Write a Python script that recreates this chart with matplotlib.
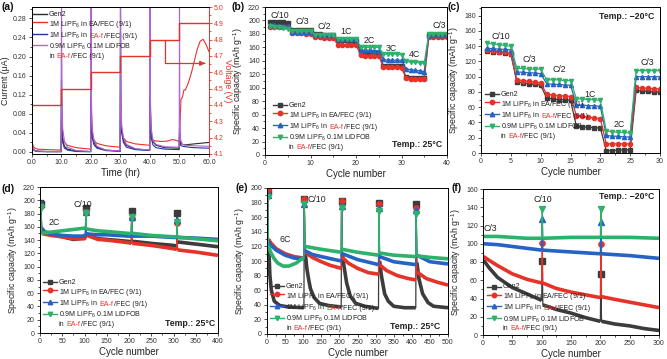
import numpy as np
import matplotlib
matplotlib.use('Agg')
import matplotlib.pyplot as plt
from matplotlib.lines import Line2D
from matplotlib.offsetbox import AnchoredOffsetbox, TextArea, HPacker, VPacker, DrawingArea
from matplotlib.ticker import AutoMinorLocator, FormatStrFormatter

plt.rcParams['font.family'] = ['Liberation Sans', 'DejaVu Sans']
plt.rcParams['mathtext.fontset'] = 'custom'
plt.rcParams['mathtext.rm'] = 'Liberation Sans'
plt.rcParams['mathtext.it'] = 'Liberation Sans:italic'
plt.rcParams['mathtext.bf'] = 'Liberation Sans:bold'
plt.rcParams['axes.linewidth'] = 0.7

TXT = '#222222'
GRAY = '#3c3c3c'
RED = '#e63329'
BLUE = '#2563c4'
GREEN = '#2eb16a'
A_COLORS = ['#2b2b2b', '#e63329', '#1d3a9a', '#b463d3']
COLORS = [GRAY, RED, BLUE, GREEN]
MARKERS = ['s', 'o', '^', 'v']

# ---------------- (a) leakage current / voltage hold ----------------
a_t = [0, 0.1, 0.4, 1, 2, 5, 9.9,
       10, 10.1, 10.4, 11, 12, 15, 19.9,
       20, 20.1, 20.4, 21, 22, 25, 29.9,
       30, 30.1, 30.4, 31, 32, 35, 39.9,
       40, 40.1, 40.4, 41, 42, 45, 49.9,
       50, 50.1, 50.4, 51, 52, 55, 60]
a_gen2 = [0.025, 0.012, 0.006, 0.003, 0.002, 0.001, 0.001,
          0.20, 0.06, 0.025, 0.012, 0.006, 0.002, 0.001,
          0.35, 0.09, 0.04, 0.02, 0.01, 0.004, 0.002,
          0.30, 0.10, 0.045, 0.025, 0.014, 0.006, 0.004,
          0.35, 0.10, 0.04, 0.022, 0.014, 0.009, 0.008,
          0.05, 0.025, 0.018, 0.016, 0.015, 0.017, 0.020]
a_eaf = [0.02, 0.01, 0.005, 0.002, 0.001, 0.0005, 0.0005,
         0.15, 0.05, 0.02, 0.008, 0.004, 0.001, 0.0005,
         0.25, 0.07, 0.03, 0.015, 0.008, 0.003, 0.001,
         0.25, 0.08, 0.04, 0.02, 0.01, 0.005, 0.003,
         0.30, 0.08, 0.03, 0.015, 0.009, 0.006, 0.005,
         0.04, 0.02, 0.014, 0.012, 0.011, 0.009, 0.008]
a_dfob = [0.03, 0.015, 0.007, 0.003, 0.002, 0.001, 0.001,
          0.35, 0.12, 0.05, 0.022, 0.01, 0.003, 0.001,
          0.35, 0.12, 0.05, 0.025, 0.012, 0.004, 0.002,
          0.35, 0.12, 0.055, 0.03, 0.016, 0.007, 0.004,
          0.35, 0.12, 0.05, 0.025, 0.016, 0.011, 0.010,
          0.35, 0.06, 0.025, 0.016, 0.014, 0.013, 0.012]
a_t_ea = [0, 0.1, 0.4, 1, 2, 5, 9.9,
          10, 10.1, 10.4, 11, 12, 15, 19.9,
          20, 20.1, 20.4, 21, 22, 25, 29.9,
          30, 30.1, 30.4, 31, 32, 35, 39.9,
          40, 40.3, 41, 42, 44, 46, 47.5, 48.5, 49.9,
          50, 50.5, 51, 51.5, 52, 53, 54, 55, 56, 57, 58, 59, 60]
a_ea = [0.03, 0.02, 0.012, 0.008, 0.006, 0.005, 0.004,
        0.10, 0.05, 0.03, 0.02, 0.014, 0.009, 0.006,
        0.12, 0.06, 0.035, 0.025, 0.018, 0.013, 0.010,
        0.12, 0.07, 0.04, 0.03, 0.022, 0.017, 0.014,
        0.033, 0.03, 0.025, 0.023, 0.022, 0.023, 0.026, 0.025, 0.022,
        0.03, 0.11, 0.115, 0.13, 0.13, 0.145, 0.165, 0.19, 0.215, 0.232, 0.236, 0.225, 0.21]
v_t = [0, 10, 20, 30, 40, 50, 60]
v_hold = [4.4, 4.5, 4.6, 4.7, 4.8, 4.9, 4.9]

# ---------------- (b) rate test 25 C ----------------
b_cycles = list(range(1, 41))
b_gen2 = [197, 197, 197, 197, 196, 186, 186, 186, 186, 186, 180, 180, 179, 179, 179,
          171, 171, 171, 170, 170, 152, 152, 151, 151, 151, 133, 132, 132, 132, 132,
          116, 115, 115, 114, 114, 178, 178, 178, 178, 178]
b_ea = [191, 191, 191, 190, 190, 181, 181, 181, 180, 180, 175, 175, 174, 174, 174,
        164, 164, 164, 164, 164, 148, 147, 147, 147, 147, 131, 131, 131, 131, 130,
        114, 113, 113, 113, 113, 175, 175, 175, 175, 175]
b_eaf = [193, 193, 192, 192, 192, 183, 183, 183, 183, 183, 178, 178, 178, 178, 178,
         172, 172, 172, 172, 172, 156, 156, 156, 155, 155, 142, 141, 141, 141, 141,
         128, 127, 126, 125, 124, 179, 179, 179, 179, 179]
b_dfob = [192, 191, 190, 189, 188, 185, 185, 184, 184, 184, 179, 179, 179, 179, 179,
          173, 173, 173, 173, 173, 161, 160, 160, 160, 160, 150, 150, 150, 150, 149,
          139, 138, 138, 137, 137, 180, 180, 180, 180, 180]
b_rates = ['C/10', 'C/3', 'C/2', '1C', '2C', '3C', '4C', 'C/3']
b_rate_x = [3.2, 8.2, 13, 17.8, 23, 27.8, 32.9, 38.3]
b_rate_y = [208, 198, 191, 184, 170, 159, 149, 192]

# ---------------- (c) rate test -20 C ----------------
c_cycles = list(range(1, 31))
c_gen2 = [134, 133, 132, 131, 130, 93, 92, 91, 90, 89, 72, 71, 70, 70, 69,
          35, 34, 34, 33, 33, 3, 3, 4, 4, 4, 82, 81, 81, 80, 80]
c_ea = [135, 134, 133, 132, 130, 96, 95, 94, 93, 92, 77, 76, 75, 75, 74,
        49, 48, 47, 46, 45, 12, 12, 12, 12, 12, 86, 85, 85, 84, 84]
c_eaf = [137, 137, 136, 136, 135, 106, 106, 105, 105, 104, 91, 90, 90, 89, 89,
         63, 63, 62, 62, 61, 23, 22, 22, 21, 21, 100, 100, 100, 100, 100]
c_dfob = [144, 143, 142, 141, 140, 111, 111, 110, 110, 110, 96, 96, 96, 95, 95,
          71, 71, 70, 70, 69, 29, 28, 27, 27, 26, 108, 108, 108, 108, 108]
c_rates = ['C/10', 'C/3', 'C/2', '1C', '2C', 'C/3']
c_rate_x = [3.4, 8.1, 13.1, 18.2, 23.2, 27.9]
c_rate_y = [153, 122, 109, 77, 38, 118]

# ---------------- (d) 2C cycling 25 C ----------------
d_cycles = [1, 2, 4, 10, 25, 50, 75, 100, 102, 103, 104, 110, 130, 150, 200, 205,
            206, 207, 210, 250, 300, 307, 308, 309, 312, 350, 400]
d_gen2 = [196, 195, 153, 151, 148, 145, 141, 143, 145, 188, 147, 147, 142, 141, 138, 137,
          184, 138, 138, 135, 132, 131, 181, 137, 137, 134, 130]
d_ea = [193, 192, 150, 149, 147, 145, 142, 142, 146, 182, 148, 146, 141, 140, 136, 135,
        174, 135, 135, 132, 127, 126, 166, 126, 125, 122, 117]
d_eaf = [195, 194, 158, 153, 149, 147, 146, 146, 149, 182, 150, 149, 148, 148, 146, 146,
         175, 146, 146, 146, 144, 144, 170, 144, 144, 143, 141]
d_dfob = [190, 189, 150, 151, 152, 154, 156, 158, 159, 181, 157, 156, 154, 153, 150, 150,
          175, 150, 150, 147, 145, 145, 168, 145, 144, 142, 139]
d_spikes = {1, 2, 103, 206, 308}

# ---------------- (e) 6C cycling 25 C ----------------
e_gen2_x = [1, 2, 4, 6, 8, 12, 20, 35, 60, 102, 103, 105, 107, 110, 115, 120, 130, 145, 170, 205,
            206, 208, 212, 220, 230, 245, 270, 308, 309, 311, 316, 325, 335, 350, 380, 411,
            412, 414, 420, 430, 445, 460, 500]
e_gen2 = [195, 194, 120, 105, 80, 60, 45, 39, 37, 36, 185, 115, 105, 90, 75, 62, 50, 42, 39, 37,
          182, 110, 95, 70, 52, 42, 38, 35, 180, 100, 80, 55, 45, 38, 36, 36,
          178, 98, 75, 55, 43, 38, 36]
e_ea_x = [1, 2, 4, 10, 25, 50, 75, 102, 103, 105, 125, 150, 175, 205, 206, 208, 225, 250, 280, 308,
          309, 311, 330, 360, 390, 411, 412, 414, 440, 470, 500]
e_ea = [198, 197, 130, 125, 117, 110, 106, 104, 185, 112, 105, 99, 94, 90, 182, 105, 97, 90, 84, 82,
        178, 95, 87, 80, 76, 74, 172, 85, 76, 71, 67]
e_eaf_x = [1, 2, 4, 10, 25, 50, 75, 102, 103, 105, 125, 150, 205, 206, 208, 250, 300, 308,
           309, 311, 350, 411, 412, 414, 450, 500]
e_eaf = [192, 191, 127, 122, 115, 108, 104, 103, 178, 114, 109, 106, 100, 175, 110, 102, 96, 95,
         172, 106, 99, 95, 170, 108, 99, 96]
e_dfob_x = [1, 2, 4, 10, 20, 30, 45, 60, 80, 102, 103, 105, 150, 205, 206, 208, 250, 308,
            309, 311, 350, 411, 412, 414, 450, 500]
e_dfob = [188, 187, 121, 112, 103, 97, 93, 93, 97, 105, 178, 120, 116, 112, 172, 116, 112, 108,
          168, 111, 108, 106, 165, 107, 105, 103]
e_spikes = {1, 2, 103, 206, 309, 412}

# ---------------- (f) C/3 cycling -20 C ----------------
f_x_ab = [1, 25, 50, 75, 100, 101, 102, 150, 200, 201, 202, 250, 300]
f_dfob = [108, 108, 107, 106, 106, 138, 106, 107, 107, 138, 107, 107, 106]
f_eaf = [100, 99, 97, 95, 93, 127, 93, 91, 89, 124, 89, 87, 84]
f_x_cd = [1, 10, 25, 50, 75, 100, 101, 102, 125, 150, 175, 200, 201, 202, 225, 250, 275, 300]
f_ea = [86, 82, 76, 67, 61, 57, 101, 57, 51, 47, 44, 41, 100, 42, 39, 36, 33, 30]
f_gen2 = [82, 74, 63, 52, 45, 38, 81, 33, 28, 24, 19, 15, 67, 15, 12, 10, 7, 5]
f_spikes = {101, 201}

LEG_FS = 5.1
SPACE = 1.45
LEG_ROWS = [
    [[('Gen2', None)]],
    [[('1M LiPF$_6$ in EA/FEC (9/1)', None)]],
    [[('1M LiPF$_6$ in', None), ('EA-f', RED), ('/FEC (9/1)', None)]],
    [[('0.9M LiPF$_6$ 0.1M LiDFOB', None)], [('in', None), ('EA-f', RED), ('/FEC (9/1)', None)]],
]


def text_line(parts):
    boxes = [TextArea(s, textprops=dict(fontsize=LEG_FS, color=c or TXT)) for s, c in parts]
    if len(boxes) == 1:
        return boxes[0]
    first = HPacker(children=boxes[:2], sep=SPACE, pad=0)
    return HPacker(children=[first, boxes[2]], sep=0, pad=0)


def add_legend(ax, colors, markers, loc, anchor):
    rows = []
    for color, marker, lines in zip(colors, markers, LEG_ROWS):
        da = DrawingArea(10, 5, 0, 0)
        da.add_artist(Line2D([0, 10], [2.6, 2.6], color=color, lw=1.0))
        if marker:
            da.add_artist(Line2D([5], [2.6], marker=marker, color=color, ms=3.2, lw=0))
        txt = VPacker(children=[text_line(p) for p in lines], sep=0.4, pad=0, align='left')
        rows.append(HPacker(children=[da, txt], sep=1.5, pad=0, align='top'))
    box = VPacker(children=rows, sep=0.7, pad=0, align='left')
    ab = AnchoredOffsetbox(loc=loc, child=box, pad=0, borderpad=0, frameon=False,
                           bbox_to_anchor=anchor, bbox_transform=ax.transAxes)
    ax.add_artist(ab)


def setup(ax, xlim, xticks, ylim, yticks, xlabel, ylabel):
    ax.set_xlim(xlim)
    ax.set_ylim(ylim)
    ax.set_xticks(xticks)
    ax.set_yticks(yticks)
    ax.xaxis.set_minor_locator(AutoMinorLocator(2))
    ax.yaxis.set_minor_locator(AutoMinorLocator(2))
    ax.tick_params(which='both', direction='out', labelsize=5, width=0.6, pad=1.5,
                   colors='#333333')
    ax.tick_params(which='major', length=2.2)
    ax.tick_params(which='minor', length=1.2)
    ax.set_xlabel(xlabel, fontsize=7, labelpad=1, color=TXT)
    ax.set_ylabel(ylabel, fontsize=6.3, labelpad=2, color=TXT)


def cycle_plot(ax, xs, ys, color, marker, spikes):
    thick = [np.nan if x in spikes else y for x, y in zip(xs, ys)]
    ax.plot(xs, ys, color=color, lw=0.9)
    ax.plot(xs, thick, color=color, lw=2.6, solid_capstyle='butt')
    idx = [i for i, x in enumerate(xs) if x in spikes]
    ax.plot([xs[i] for i in idx], [ys[i] for i in idx], ls='none', marker=marker,
            color=color, ms=3.8)


def rect(left, top, right, bottom):
    W, H = 667.0, 359.0
    return [left / W, 1 - bottom / H, (right - left) / W, (bottom - top) / H]


fig = plt.figure(figsize=(6.67, 3.59), dpi=100)
CAP = 'Specific capacity (mAh g$^{-1}$)'

# (a)
ax = fig.add_axes(rect(32, 7, 209, 154))
for t, y, c in [(a_t, a_gen2, A_COLORS[0]), (a_t_ea, a_ea, A_COLORS[1]),
                (a_t, a_eaf, A_COLORS[2]), (a_t, a_dfob, A_COLORS[3])]:
    ax.plot(t, y, color=c, lw=0.8)
setup(ax, (0, 60), [0, 10, 20, 30, 40, 50, 60], (-0.0042, 0.3037),
      [0, 0.04, 0.08, 0.12, 0.16, 0.20, 0.24, 0.28], 'Time (hr)', 'Current (μA)')
ax.xaxis.set_major_formatter(FormatStrFormatter('%.1f'))
ax.yaxis.set_major_formatter(FormatStrFormatter('%.2f'))
ax.spines['right'].set_visible(False)
ax2 = ax.twinx()
ax2.step(v_t, v_hold, where='post', color=RED, lw=1.0)
ax2.plot([45, 45, 58], [4.8, 4.655, 4.655], color=RED, lw=0.9)
ax2.annotate('', xy=(59.6, 4.655), xytext=(57.5, 4.655),
             arrowprops=dict(arrowstyle='-|>', color=RED, lw=0.9, mutation_scale=7))
ax2.set_ylim(4.1, 5.0)
ax2.set_yticks([4.1, 4.2, 4.3, 4.4, 4.5, 4.6, 4.7, 4.8, 4.9, 5.0])
ax2.yaxis.set_major_formatter(FormatStrFormatter('%.1f'))
ax2.yaxis.set_minor_locator(AutoMinorLocator(2))
ax2.tick_params(which='both', direction='out', labelsize=5, width=0.6, pad=1.5,
                colors=RED)
ax2.tick_params(which='major', length=2.2)
ax2.tick_params(which='minor', length=1.2)
ax2.spines['right'].set_color(RED)
ax2.set_ylabel('Voltage (V)', fontsize=6.3, color=RED, rotation=270, labelpad=6)
add_legend(ax2, A_COLORS, [None] * 4, 'upper left', (0.006, 0.975))

# (b)
ax = fig.add_axes(rect(265, 7, 447, 155))
for y, c, m in zip([b_gen2, b_ea, b_eaf, b_dfob], COLORS, MARKERS):
    ax.plot(b_cycles, y, color=c, marker=m, ms=3.0, lw=0.9)
setup(ax, (0, 40), [0, 10, 20, 30, 40], (0, 220), list(range(0, 221, 20)),
      'Cycle number', CAP)
for s, x, y in zip(b_rates, b_rate_x, b_rate_y):
    ax.text(x, y, s, fontsize=6.3, ha='center', va='center', color=TXT)
ax.text(0.975, 0.07, 'Temp.: 25°C', transform=ax.transAxes, fontsize=6.3,
        fontweight='bold', ha='right', va='center', color=TXT)
add_legend(ax, COLORS, MARKERS, 'lower left', (0.044, 0.027))

# (c)
ax = fig.add_axes(rect(481, 7, 660, 153))
for y, c, m in zip([c_gen2, c_ea, c_eaf, c_dfob], COLORS, MARKERS):
    ax.plot(c_cycles, y, color=c, marker=m, ms=3.0, lw=0.9)
setup(ax, (0, 30), [0, 5, 10, 15, 20, 25, 30], (0, 191.4), list(range(0, 181, 20)),
      'Cycle number', CAP)
for s, x, y in zip(c_rates, c_rate_x, c_rate_y):
    ax.text(x, y, s, fontsize=6.3, ha='center', va='center', color=TXT)
ax.text(0.967, 0.938, 'Temp.: \u221220°C', transform=ax.transAxes, fontsize=6.3,
        fontweight='bold', ha='right', va='center', color=TXT)
add_legend(ax, COLORS, MARKERS, 'lower left', (0.022, 0.089))

# (d)
ax = fig.add_axes(rect(40, 187, 218, 333))
for y, c, m in zip([d_gen2, d_ea, d_eaf, d_dfob], COLORS, MARKERS):
    cycle_plot(ax, d_cycles, y, c, m, d_spikes)
setup(ax, (0, 400), list(range(0, 401, 50)), (0, 220), list(range(0, 221, 20)),
      'Cycle number', CAP)
ax.text(33, 166, '2C', fontsize=6.3, ha='center', va='center', color=TXT)
ax.text(96, 194, 'C/10', fontsize=6.3, ha='center', va='center', color=TXT)
ax.text(0.983, 0.068, 'Temp.: 25°C', transform=ax.transAxes, fontsize=6.3,
        fontweight='bold', ha='right', va='center', color=TXT)
add_legend(ax, COLORS, MARKERS, 'lower left', (0.017, 0.034))

# (e)
ax = fig.add_axes(rect(267, 188, 448, 334))
for x, y, c, m in zip([e_gen2_x, e_ea_x, e_eaf_x, e_dfob_x], [e_gen2, e_ea, e_eaf, e_dfob],
                      COLORS, MARKERS):
    cycle_plot(ax, x, y, c, m, e_spikes)
setup(ax, (0, 500), list(range(0, 501, 50)), (0, 200), list(range(0, 201, 20)),
      'Cycle number', CAP)
ax.text(50, 130, '6C', fontsize=6.3, ha='center', va='center', color=TXT)
ax.text(113, 184, 'C/10', fontsize=6.3, ha='left', va='center', color=TXT)
ax.text(0.956, 0.048, 'Temp.: 25°C', transform=ax.transAxes, fontsize=6.3,
        fontweight='bold', ha='right', va='center', color=TXT)
add_legend(ax, COLORS, MARKERS, 'lower left', (0.017, 0.014))

# (f)
ax = fig.add_axes(rect(483, 189, 659, 335))
for x, y, c, m in zip([f_x_cd, f_x_cd, f_x_ab, f_x_ab], [f_gen2, f_ea, f_eaf, f_dfob],
                      COLORS, MARKERS):
    cycle_plot(ax, x, y, c, m, f_spikes)
setup(ax, (0, 300), list(range(0, 301, 50)), (0, 160), list(range(0, 161, 20)),
      'Cycle number', CAP)
ax.text(13, 117, 'C/3', fontsize=6.3, ha='center', va='center', color=TXT)
ax.text(102, 148, 'C/10', fontsize=6.3, ha='center', va='center', color=TXT)
ax.text(0.972, 0.952, 'Temp.: \u221220°C', transform=ax.transAxes, fontsize=6.3,
        fontweight='bold', ha='right', va='center', color=TXT)
add_legend(ax, COLORS, MARKERS, 'lower left', (0.022, 0.02))

for s, x, y in [('(a)', 1, 7), ('(b)', 232, 7), ('(c)', 447, 7),
                ('(d)', 2, 189), ('(e)', 235, 188), ('(f)', 452, 188)]:
    fig.text(x / 667, 1 - y / 359, s, fontsize=7.5, fontweight='bold', ha='left',
             va='center', color='#111111')

fig.savefig('out.png', dpi=100, facecolor='white')
